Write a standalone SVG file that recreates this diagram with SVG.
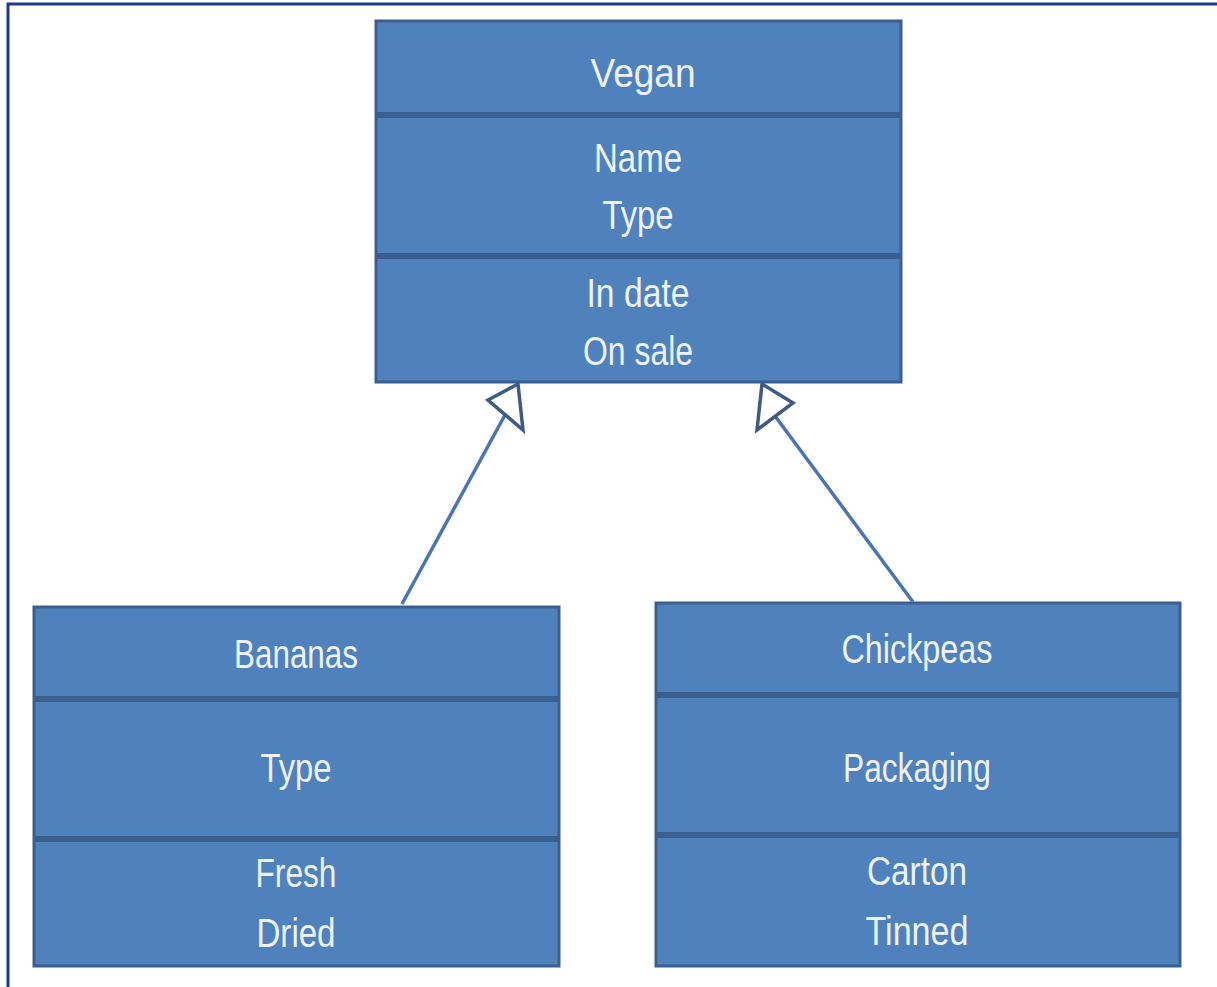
<svg xmlns="http://www.w3.org/2000/svg" width="1217" height="987" viewBox="0 0 1217 987">
<style>
.box{fill:#4f81bd;stroke:#3d5f8e;stroke-width:3}
.div{stroke:#3a5e8e;stroke-width:6}
.t{font-family:"Liberation Sans",Arial,sans-serif;font-size:41px;fill:#eef3fb;text-anchor:middle}
.conn{stroke:#4a74b2;stroke-width:3.5;fill:none}
.head{fill:#ffffff;stroke:#3e5a85;stroke-width:3.5;stroke-linejoin:miter}
</style>
<rect width="1217" height="987" fill="#ffffff"/>
<path d="M8,987 V4 H1217" fill="none" stroke="#1d3a8c" stroke-width="3"/>
<g id="vegan">
<rect class="box" x="376" y="21" width="525" height="361"/>
<line class="div" x1="376" y1="115" x2="901" y2="115"/>
<line class="div" x1="376" y1="256" x2="901" y2="256"/>
<text class="t" x="643" y="87" textLength="105" lengthAdjust="spacingAndGlyphs">Vegan</text>
<text class="t" x="638" y="172" textLength="88" lengthAdjust="spacingAndGlyphs">Name</text>
<text class="t" x="638" y="229" textLength="71" lengthAdjust="spacingAndGlyphs">Type</text>
<text class="t" x="638" y="307" textLength="103" lengthAdjust="spacingAndGlyphs">In date</text>
<text class="t" x="638" y="365" textLength="110" lengthAdjust="spacingAndGlyphs">On sale</text>
</g>
<g id="bananas">
<rect class="box" x="34" y="607" width="525" height="359"/>
<line class="div" x1="34" y1="699" x2="559" y2="699"/>
<line class="div" x1="34" y1="839" x2="559" y2="839"/>
<text class="t" x="296" y="668" textLength="124" lengthAdjust="spacingAndGlyphs">Bananas</text>
<text class="t" x="296" y="782" textLength="71" lengthAdjust="spacingAndGlyphs">Type</text>
<text class="t" x="296" y="887" textLength="81" lengthAdjust="spacingAndGlyphs">Fresh</text>
<text class="t" x="296" y="947" textLength="79" lengthAdjust="spacingAndGlyphs">Dried</text>
</g>
<g id="chickpeas">
<rect class="box" x="656" y="603" width="524" height="363"/>
<line class="div" x1="656" y1="695" x2="1180" y2="695"/>
<line class="div" x1="656" y1="835" x2="1180" y2="835"/>
<text class="t" x="917" y="663" textLength="151" lengthAdjust="spacingAndGlyphs">Chickpeas</text>
<text class="t" x="917" y="782" textLength="148" lengthAdjust="spacingAndGlyphs">Packaging</text>
<text class="t" x="917" y="885" textLength="100" lengthAdjust="spacingAndGlyphs">Carton</text>
<text class="t" x="917" y="945" textLength="103" lengthAdjust="spacingAndGlyphs">Tinned</text>
</g>
<g id="connectors">
<line class="conn" x1="402" y1="604" x2="505" y2="415"/>
<polygon class="head" points="518,384 488,400 523,430"/>
<line class="conn" x1="913" y1="602" x2="775" y2="416"/>
<polygon class="head" points="762,384 793,403 757,430"/>
</g>
</svg>
